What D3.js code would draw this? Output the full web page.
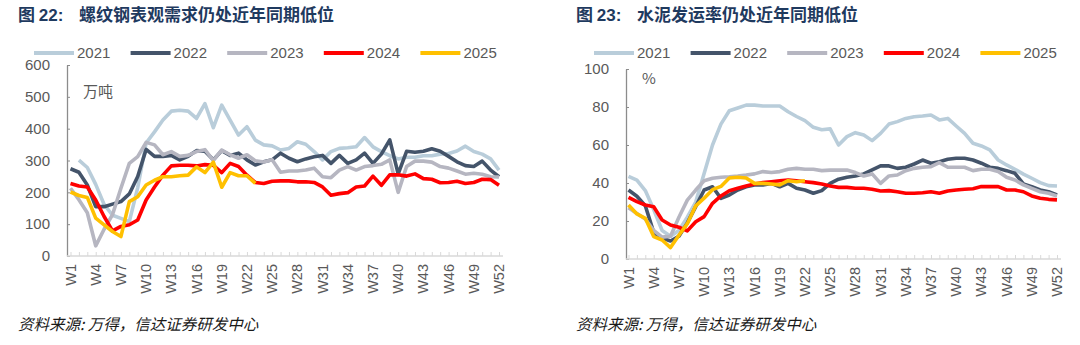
<!DOCTYPE html>
<html>
<head>
<meta charset="utf-8">
<script src="https://cdn.jsdelivr.net/npm/d3@7/dist/d3.min.js"></script>
<style>
    body { margin: 0; background: #fff; }
    svg text { font-family: "Liberation Sans", Arial, "Noto Sans CJK SC", sans-serif; }
    .cjk { font-family: "Noto Sans CJK SC", sans-serif !important; }
</style>
</head>
<body>
<svg id="weekly-charts" width="1080" height="345"></svg>
<script>
'use strict';

var weeks = d3.range(1, 53).map(function(w) { return 'W' + w; })
var weekLabels = weeks.filter(function(d, i) { return i % 3 === 0; })
var years = ['2021', '2022', '2023', '2024', '2025']
var yearColors = ['#b9cdda', '#44546a', '#b6b6c1', '#ff0000', '#ffc000']

// 螺纹钢表观需求, 万吨
var rebar2021 = [null, 301, 278, 225, 162, 128, 118, 108, 215, 355, 390, 427, 455, 458, 455, 432, 479, 403, 474, 427,
    380, 406, 364, 349, 346, 333, 338, 359, 351, 328, 302, 328, 338, 340, 343, 372, 343, 328, 315, 305,
    310, 310, 315, 315, 320, 322, 330, 345, 328, 320, 305, 270]
var rebar2022 = [274, 263, 223, 155, 155, 163, 171, 195, 250, 335, 313, 313, 316, 302, 313, 331, 329, 302, 331, 316,
    323, 302, 286, 296, 302, 323, 307, 296, 305, 312, 316, 291, 316, 291, 302, 323, 291, 320, 365, 258,
    329, 326, 329, 337, 329, 313, 296, 284, 281, 298, 270, 249]
var rebar2023 = [213, 177, 136, 32, 84, 130, 213, 291, 312, 357, 349, 318, 328, 313, 316, 328, 334, 300, 333, 318,
    307, 318, 299, 295, 302, 263, 267, 267, 270, 276, 249, 246, 270, 281, 270, 281, 284, 288, 302, 200,
    281, 298, 298, 295, 281, 276, 267, 257, 260, 257, 249, 248]
var rebar2024 = [228, 220, 217, 176, 124, 79, 93, 98, 113, 176, 217, 254, 283, 285, 285, 283, 287, 285, 262, 291,
    281, 254, 231, 228, 235, 236, 236, 233, 233, 231, 217, 191, 196, 199, 217, 220, 251, 222, 255, 255,
    251, 258, 243, 241, 230, 231, 235, 228, 231, 241, 240, 222]
var rebar2025 = [201, 190, 184, 119, 98, 77, 61, 171, 186, 223, 238, 249, 249, 252, 254, 280, 262, 295, 216, 262,
    252, 252, 228]

// 水泥发运率, %
var cement2021 = [43.5, 41.5, 36, 26, 15, 12, 15, 22, 30, 45, 60, 71, 78, 79.5, 81, 81, 80.5, 80.5, 80.5, 77.5,
    75, 72.8, 69.3, 68, 68.5, 60, 64.4, 66.5, 65.3, 62.3, 66.1, 71, 72.3, 74, 74.9, 75.3, 75.8, 73.2, 74, 70,
    66.1, 60.9, 59.5, 57.4, 52.1, 49.5, 47.2, 44.7, 42.5, 40.2, 38.6, 38.4]
var cement2022 = [36.3, 33, 28, 14, 11, 9.5, 12, 19, 27.6, 36.3, 38, 31.9, 33.7, 36.3, 38, 39, 39, 39.8, 38, 39.8,
    37.2, 36.3, 34.6, 36, 39.8, 42, 43, 43.7, 44.8, 46.9, 49, 49, 47.7, 48.3, 50, 52.1, 50.4, 51.2, 52.5, 53,
    53, 52.1, 50.4, 48.3, 47.7, 46.5, 45.1, 39.5, 38.1, 36.3, 35.4, 33.7]
var cement2023 = [27, 24, 21, 15, 11.5, 12, 22, 31, 36.3, 41.2, 42.5, 43, 43.3, 43.7, 44.2, 44.8, 46, 45.5, 46, 47.2,
    47.7, 47.2, 47.2, 46.5, 46.8, 46.8, 46.8, 45.5, 43.7, 44.8, 39.8, 43.7, 44.2, 46.5, 47.7, 48.3, 48.6, 50.7, 48.3, 48.3,
    48.3, 46.5, 47.2, 47.2, 46, 43, 41.6, 39, 37.2, 35.4, 34.6, 33.2]
var cement2024 = [32.4, 30.2, 28.4, 27.5, 20.5, 17.9, 16.7, 14.8, 19.6, 22.3, 29.3, 33.2, 35.9, 37.2, 38.4, 39.5, 40.2, 40.7, 41.2, 41.6,
    41.2, 40.7, 40.2, 39.5, 38.4, 37.7, 37.7, 37.2, 37.2, 36.7, 35.8, 36, 35.4, 34.6, 34.6, 34.9, 35.4, 34.6, 35.8, 36.3,
    36.7, 37, 38.1, 38.1, 38.1, 36.3, 36.3, 35.4, 33.2, 32, 31.4, 31.1]
var cement2025 = [28.4, 23.7, 21.4, 11.8, 10, 6, 12.5, 18.6, 28, 32, 36.5, 38.2, 42.6, 43, 42.6, 39.8, 39.8, 39.5, 39, 41.2,
    40.7, 41.2]

var rebarTicks = [0, 100, 200, 300, 400, 500, 600]
var cementTicks = [0, 20, 40, 60, 80, 100]

var svg = d3.select('#weekly-charts')

var panels = [
    {
        left: 0, figNo: '22:', title: '螺纹钢表观需求仍处近年同期低位', unit: '万吨',
        series: [rebar2021, rebar2022, rebar2023, rebar2024, rebar2025], ticks: rebarTicks,
        axisX: 67, xStart: 70.5, xEnd: 499, axisEnd: 503, yTop: 65, yBottom: 256, legendX: 34
    },
    {
        left: 558, figNo: '23:', title: '水泥发运率仍处近年同期低位', unit: '%',
        series: [cement2021, cement2022, cement2023, cement2024, cement2025], ticks: cementTicks,
        axisX: 626, xStart: 628.5, xEnd: 1057, axisEnd: 1061, yTop: 69, yBottom: 259, legendX: 594
    }
]

panels.forEach(drawPanel)

function drawPanel(p) {
    var g = svg.append('g')

    var x = d3.scalePoint().domain(weeks).range([p.xStart, p.xEnd])
    var y = d3.scaleLinear()
        .domain([0, d3.max(p.ticks)])
        .range([p.yBottom, p.yTop])

    // title
    var title = g.append('text')
        .attr('x', p.left + 18)
        .attr('y', 21)
        .attr('fill', '#1f3a5f')
        .attr('font-weight', 'bold')
        .attr('font-size', 17)
    title.append('tspan').attr('class', 'cjk').text('图 ')
    title.append('tspan').text(p.figNo)
    g.append('text')
        .attr('class', 'cjk')
        .attr('x', p.left + 79)
        .attr('y', 21)
        .attr('fill', '#1f3a5f')
        .attr('font-weight', 'bold')
        .attr('font-size', 17)
        .text(p.title)

    // legend
    var legend = g.append('g').selectAll('g')
        .data(years)
        .enter().append('g')
        .attr('transform', function(d, i) { return 'translate(' + (p.legendX + i * 96.6) + ',53)'; })
    legend.append('line')
        .attr('x1', 0).attr('x2', 40)
        .attr('stroke', function(d, i) { return yearColors[i]; })
        .attr('stroke-width', 4)
    legend.append('text')
        .attr('x', 43)
        .attr('dy', '0.35em')
        .attr('font-size', 15)
        .attr('fill', '#595959')
        .text(function(d) { return d; })

    // y axis
    var yAxis = g.append('g')
        .attr('transform', 'translate(' + p.axisX + ',0)')
        .call(d3.axisLeft(y).tickValues(p.ticks).tickSize(-3).tickSizeOuter(0).tickPadding(17))
    yAxis.select('.domain').attr('stroke', '#8c8c8c').attr('stroke-width', 1.3)
    yAxis.selectAll('.tick line').attr('stroke', '#8c8c8c')
    yAxis.selectAll('.tick text')
        .attr('font-size', 15)
        .attr('fill', '#595959')

    // x axis
    var xAxis = g.append('g')
        .attr('transform', 'translate(0,' + p.yBottom + ')')
        .call(d3.axisBottom(x).tickSize(-4).tickSizeOuter(0).tickFormat(''))
    xAxis.select('.domain').remove()
    xAxis.selectAll('.tick line').attr('stroke', '#d9d9d9')
    xAxis.append('line')
        .attr('x1', p.axisX).attr('x2', p.axisEnd)
        .attr('stroke', '#d9d9d9')
        .attr('stroke-width', 1.3)

    g.append('g').selectAll('text')
        .data(weekLabels)
        .enter().append('text')
        .attr('transform', function(d) { return 'translate(' + x(d) + ',' + (p.yBottom + 8) + ') rotate(-90)'; })
        .attr('text-anchor', 'end')
        .attr('dy', '0.35em')
        .attr('font-size', 14.5)
        .attr('fill', '#595959')
        .text(function(d) { return d; })

    g.append('text')
        .attr('class', 'cjk')
        .attr('x', p.axisX + 16)
        .attr('y', p.unit === '%' ? 84 : 97)
        .attr('font-size', 15)
        .attr('fill', '#595959')
        .text(p.unit)

    // one line per year
    var line = d3.line()
        .defined(function(d) { return d != null; })
        .x(function(d, i) { return x(weeks[i]); })
        .y(function(d) { return y(d); })

    g.append('g').selectAll('path')
        .data(p.series)
        .enter().append('path')
        .attr('d', line)
        .attr('fill', 'none')
        .attr('stroke', function(d, i) { return yearColors[i]; })
        .attr('stroke-width', 3.6)
        .attr('stroke-linejoin', 'round')

    // source note
    g.append('text')
        .attr('class', 'cjk')
        .attr('x', p.left + 18)
        .attr('y', 330)
        .attr('font-size', 15.5)
        .attr('font-style', 'italic')
        .attr('fill', '#1a1a1a')
        .text('资料来源: 万得，信达证券研发中心')
}
</script>
</body>
</html>
